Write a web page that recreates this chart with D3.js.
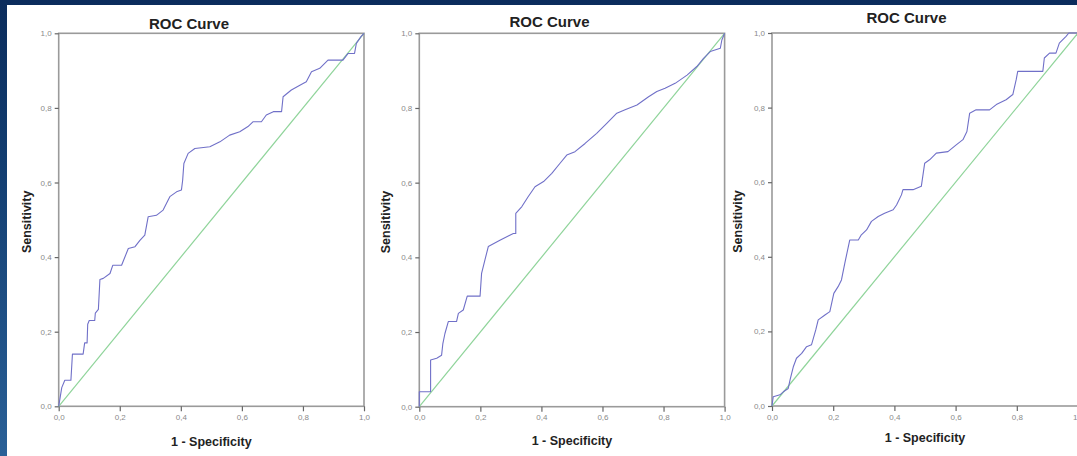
<!DOCTYPE html>
<html><head><meta charset="utf-8">
<script src="https://cdn.jsdelivr.net/npm/d3@7"></script>
<style>html,body{margin:0;padding:0;overflow:hidden;background:#fff}</style>
</head><body>
<svg id="c" width="1077" height="456"></svg>
<script>
// ---- data ----
const titles = ["ROC Curve", "ROC Curve", "ROC Curve"];
const xLabel = "1 - Specificity";
const yLabel = "Sensitivity";
const tickValues = [0, 0.2, 0.4, 0.6, 0.8, 1.0];
const tickLabels = ["0,0", "0,2", "0,4", "0,6", "0,8", "1,0"];
const diagonal = [[0, 0], [1, 1]];

const roc1 = [[0,0],[0.01,0.05],[0.02,0.07],[0.04,0.07],[0.045,0.14],[0.08,0.14],[0.085,0.17],[0.093,0.17],[0.095,0.22],[0.1,0.23],[0.118,0.23],[0.12,0.25],[0.13,0.26],[0.135,0.34],[0.146,0.343],[0.168,0.356],[0.177,0.378],[0.206,0.378],[0.228,0.423],[0.25,0.428],[0.266,0.445],[0.282,0.459],[0.293,0.508],[0.32,0.512],[0.342,0.526],[0.364,0.562],[0.386,0.575],[0.402,0.58],[0.406,0.606],[0.41,0.651],[0.424,0.678],[0.446,0.691],[0.495,0.696],[0.528,0.709],[0.56,0.727],[0.593,0.736],[0.62,0.75],[0.637,0.763],[0.664,0.763],[0.68,0.781],[0.703,0.79],[0.73,0.79],[0.735,0.83],[0.762,0.848],[0.79,0.861],[0.811,0.87],[0.828,0.897],[0.855,0.906],[0.882,0.928],[0.931,0.928],[0.948,0.946],[0.969,0.946],[0.975,0.973],[0.99,0.991],[1,1]];

const roc2 = [[0,0],[0,0.04],[0.037,0.04],[0.037,0.125],[0.057,0.13],[0.073,0.138],[0.077,0.168],[0.084,0.196],[0.095,0.228],[0.122,0.228],[0.128,0.25],[0.144,0.259],[0.157,0.296],[0.199,0.296],[0.204,0.357],[0.215,0.393],[0.226,0.429],[0.264,0.446],[0.308,0.464],[0.316,0.464],[0.316,0.518],[0.336,0.536],[0.357,0.563],[0.379,0.589],[0.407,0.603],[0.434,0.625],[0.461,0.652],[0.483,0.674],[0.51,0.683],[0.543,0.705],[0.581,0.732],[0.614,0.759],[0.647,0.786],[0.674,0.795],[0.713,0.808],[0.751,0.83],[0.778,0.844],[0.805,0.853],[0.838,0.866],[0.877,0.888],[0.909,0.911],[0.931,0.933],[0.953,0.951],[0.986,0.96],[0.991,0.982],[1,1]];

const roc3 = [[0,0],[0.004,0.025],[0.026,0.03],[0.037,0.038],[0.053,0.047],[0.059,0.07],[0.07,0.106],[0.08,0.128],[0.097,0.141],[0.113,0.159],[0.129,0.164],[0.143,0.204],[0.151,0.231],[0.173,0.244],[0.189,0.253],[0.202,0.302],[0.216,0.32],[0.227,0.338],[0.238,0.383],[0.254,0.445],[0.282,0.445],[0.292,0.459],[0.309,0.472],[0.325,0.495],[0.347,0.508],[0.368,0.517],[0.396,0.526],[0.407,0.539],[0.423,0.566],[0.428,0.58],[0.461,0.58],[0.488,0.589],[0.499,0.651],[0.515,0.66],[0.537,0.678],[0.575,0.682],[0.602,0.7],[0.624,0.714],[0.637,0.736],[0.646,0.785],[0.667,0.794],[0.711,0.794],[0.733,0.808],[0.765,0.821],[0.787,0.835],[0.798,0.875],[0.803,0.897],[0.885,0.897],[0.89,0.933],[0.907,0.946],[0.928,0.946],[0.939,0.973],[0.961,0.991],[0.97,1.0],[1,1]];

const curves = [roc1, roc2, roc3];

// ---- layout ----
const svg = d3.select("#c");
const defs = svg.append("defs");
const g1 = defs.append("linearGradient").attr("id","bg").attr("x1",0).attr("y1",0).attr("x2",0).attr("y2",1);
g1.append("stop").attr("offset","0%").attr("stop-color","#0b2c5c");
g1.append("stop").attr("offset","35%").attr("stop-color","#123d70");
g1.append("stop").attr("offset","100%").attr("stop-color","#2a6097");
svg.append("rect").attr("width",1077).attr("height",456).attr("fill","url(#bg)");
svg.append("rect").attr("x",7).attr("y",5).attr("width",1070).attr("height",451).attr("fill","#ffffff");

const panels = [
  {left:58.7, top:33.3, w:305.3, h:373, titleX:189, titleY:29, xlabY:446, ylabX:27},
  {left:419.3, top:33.3, w:305.3, h:373.4, titleX:549.5, titleY:26.5, xlabY:445, ylabX:385.5},
  {left:772, top:33, w:306, h:373, titleX:906.5, titleY:22.5, xlabY:442, ylabX:738}
];

const font = "'Liberation Sans', Arial, sans-serif";

panels.forEach((p, i) => {
  const x = d3.scaleLinear().domain([0,1]).range([p.left, p.left + p.w]);
  const y = d3.scaleLinear().domain([0,1]).range([p.top + p.h, p.top]);
  const g = svg.append("g");

  // frame
  g.append("rect").attr("x", x(0)).attr("y", y(1)).attr("width", x(1)-x(0)).attr("height", y(0)-y(1))
    .attr("fill","none").attr("stroke","#9a9a9a").attr("stroke-width",1.6);

  // axes
  const fmt = (d) => tickLabels[tickValues.indexOf(d)];
  const xa = g.append("g").attr("transform", `translate(0,${y(0)})`)
    .call(d3.axisBottom(x).tickValues(tickValues).tickFormat(fmt).tickSize(5).tickSizeOuter(0).tickPadding(3));
  const ya = g.append("g").attr("transform", `translate(${x(0)},0)`)
    .call(d3.axisLeft(y).tickValues(tickValues).tickFormat(fmt).tickSize(4).tickSizeOuter(0).tickPadding(3));
  [xa, ya].forEach(a => {
    a.select(".domain").remove();
    a.selectAll(".tick line").attr("stroke","#666").attr("stroke-width",1.2);
    a.selectAll(".tick text").attr("fill","#8a8a8a").attr("font-family",font).attr("font-size",8);
  });

  // diagonal
  const line = d3.line().x(d => x(d[0])).y(d => y(d[1]));
  g.append("path").datum(diagonal).attr("d", line).attr("fill","none")
    .attr("stroke","#8fd49a").attr("stroke-width",1.2);
  // curve
  g.append("path").datum(curves[i]).attr("d", line).attr("fill","none")
    .attr("stroke","#7070c8").attr("stroke-width",1.1).attr("stroke-linejoin","round");

  // title
  svg.append("text").attr("x", p.titleX).attr("y", p.titleY).attr("text-anchor","middle")
    .attr("font-family",font).attr("font-weight","bold").attr("font-size",15).attr("fill","#222")
    .text(titles[i]);
  // x label
  svg.append("text").attr("x", p.left + p.w/2).attr("y", p.xlabY).attr("text-anchor","middle")
    .attr("font-family",font).attr("font-weight","bold").attr("font-size",12.5).attr("fill","#222")
    .text(xLabel);
  // y label
  svg.append("text").attr("transform", `translate(${p.ylabX},${p.top + p.h/2 + 2}) rotate(-90)`)
    .attr("text-anchor","middle").attr("dominant-baseline","central")
    .attr("font-family",font).attr("font-weight","bold").attr("font-size",12.5).attr("fill","#222")
    .text(yLabel);
});
</script>
</body></html>
